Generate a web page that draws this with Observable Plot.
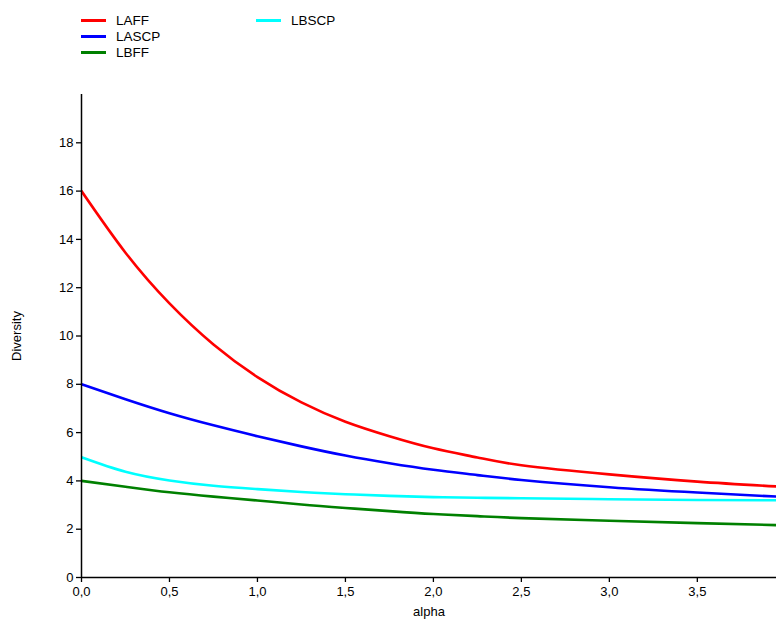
<!DOCTYPE html>
<html>
<head>
<meta charset="utf-8">
<script src="https://cdn.jsdelivr.net/npm/d3@7"></script>
<script src="https://cdn.jsdelivr.net/npm/@observablehq/plot@0.6"></script>
<style>
  body { margin: 0; background: #fff; font-family: "Liberation Sans", Arial, sans-serif; }
  #legend { position: relative; height: 70px; width: 776px; font-size: 13.5px; color: #000; }
  .item { position: absolute; display: flex; align-items: center; height: 16px; }
  .sw { width: 25px; height: 3px; margin-right: 10px; }
</style>
</head>
<body>
<div id="legend"></div>
<div id="chart"></div>
<script>
const alpha = [0, 0.25, 0.5, 0.75, 1.0, 1.25, 1.5, 1.75, 2.0, 2.25, 2.5, 3.0, 3.5, 3.95];
const laff  = [16.0, 13.45, 11.35, 9.65, 8.3, 7.25, 6.45, 5.85, 5.35, 4.97, 4.65, 4.27, 3.97, 3.77];
const lascp = [8.0, 7.38, 6.8, 6.3, 5.85, 5.43, 5.05, 4.73, 4.46, 4.24, 4.04, 3.74, 3.52, 3.35];
const lbff  = [4.0, 3.76, 3.53, 3.35, 3.19, 3.02, 2.88, 2.75, 2.63, 2.54, 2.46, 2.35, 2.25, 2.17];
const lbscp = [4.98, 4.38, 4.02, 3.8, 3.66, 3.54, 3.45, 3.38, 3.33, 3.3, 3.28, 3.24, 3.21, 3.2];
const seriesNames = ["LAFF", "LASCP", "LBFF", "LBSCP"];
const seriesColors = ["#ff0000", "#0000ff", "#008000", "#00ffff"];
const seriesValues = [laff, lascp, lbff, lbscp];
const xTicks = [0, 0.5, 1.0, 1.5, 2.0, 2.5, 3.0, 3.5];
const yTicks = [0, 2, 4, 6, 8, 10, 12, 14, 16, 18];

const rows = [];
seriesNames.forEach((name, i) => {
  alpha.forEach((a, j) => rows.push({series: name, alpha: a, value: seriesValues[i][j]}));
});

// Legend
const legendPos = [[81, 12], [81, 28], [81, 44], [256, 12]];
const legend = document.getElementById("legend");
seriesNames.forEach((name, i) => {
  const it = document.createElement("div");
  it.className = "item";
  it.style.left = legendPos[i][0] + "px";
  it.style.top = legendPos[i][1] + "px";
  const sw = document.createElement("div");
  sw.className = "sw";
  sw.style.background = seriesColors[i];
  const tx = document.createElement("span");
  tx.textContent = name;
  it.appendChild(sw); it.appendChild(tx);
  legend.appendChild(it);
});

const fmt = d => d.toFixed(1).replace(".", ",");

const chart = Plot.plot({
  width: 776,
  height: 556,
  marginLeft: 81,
  marginRight: 0,
  marginTop: 24,
  marginBottom: 49,
  style: {fontFamily: "'Liberation Sans', Arial, sans-serif", fontSize: "13px", color: "#000", background: "#fff"},
  x: {domain: [0, 3.95]},
  y: {domain: [0, 20]},
  color: {domain: seriesNames, range: seriesColors},
  marks: [
    Plot.line(rows, {x: "alpha", y: "value", stroke: "series", strokeWidth: 2.6, curve: "natural", clip: true}),
    Plot.axisX({ticks: xTicks, tickFormat: fmt, tickSize: 5, tickPadding: 4, label: "alpha", labelAnchor: "center", labelArrow: "none", labelOffset: 38, stroke: "#000", strokeWidth: 1.3}),
    Plot.axisY({ticks: yTicks, tickFormat: d => String(d), tickSize: 5, tickPadding: 3, label: "Diversity", labelAnchor: "center", labelArrow: "none", labelOffset: 70, stroke: "#000", strokeWidth: 1.3}),
    Plot.ruleX([0], {stroke: "#000", strokeWidth: 1.5}),
    Plot.ruleY([0], {stroke: "#000", strokeWidth: 1.5})
  ]
});
document.getElementById("chart").appendChild(chart);
</script>
</body>
</html>
